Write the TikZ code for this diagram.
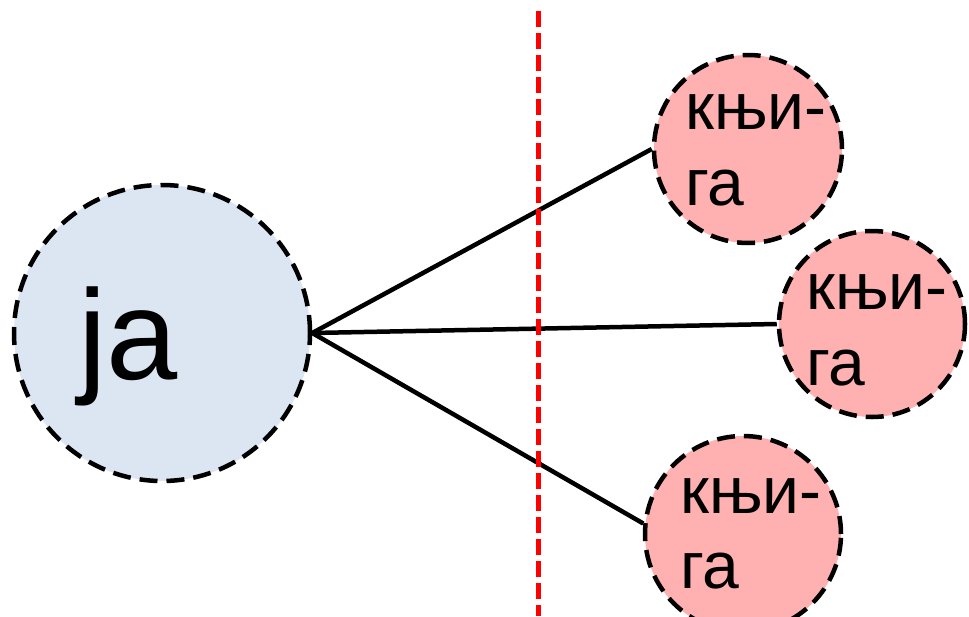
\documentclass[tikz,border=0pt]{standalone}
\usepackage{fontspec}
\setmainfont{Liberation Sans}
\definecolor{jablue}{RGB}{220,230,242}
\definecolor{knpink}{RGB}{255,176,176}
\tikzset{
  circ/.style={circle, draw=black, line width=4.5pt, dash pattern=on 18pt off 9pt, inner sep=0pt},
  bigc/.style={circ, fill=jablue, minimum size=296pt},
  smallc/.style={circ, fill=knpink},
  lbl/.style={anchor=base west, inner sep=0pt, font=\fontsize{66pt}{76pt}\selectfont},
  biglbl/.style={anchor=base west, inner sep=0pt, font=\fontsize{128pt}{140pt}\selectfont},
  conn/.style={line width=4.5pt, black},
  divider/.style={red, line width=5pt, dash pattern=on 16pt off 6pt}
}
\begin{document}
\begin{tikzpicture}[x=1pt, y=-1pt]
\path[use as bounding box, clip] (0,0) rectangle (969,616);
\node[bigc] (ja) at (162,333) {};
\node[smallc, minimum size=188pt] (c1) at (748,149) {};
\node[smallc, minimum size=186pt] (c2) at (872,324) {};
\node[smallc, minimum size=196pt] (c3) at (743,534) {};
\node[biglbl] (tja) at (78,379) {ja};
\node[lbl] (t1a) at (685,129) {књи-};
\node[lbl] (t1b) at (685,205) {га};
\node[lbl] (t2a) at (806,309) {књи-};
\node[lbl] (t2b) at (806,385) {га};
\node[lbl] (t3a) at (680,513) {књи-};
\node[lbl] (t3b) at (680,588) {га};
\draw[conn] (ja.east) -- (c1.west);
\draw[conn] (ja.east) -- (c2.west);
\draw[conn] (ja.east) -- (c3.174);
\coordinate (dtop) at (538,11);
\coordinate (dbot) at (538,616);
\draw[divider] (dtop) -- (dbot);
\end{tikzpicture}
\end{document}
